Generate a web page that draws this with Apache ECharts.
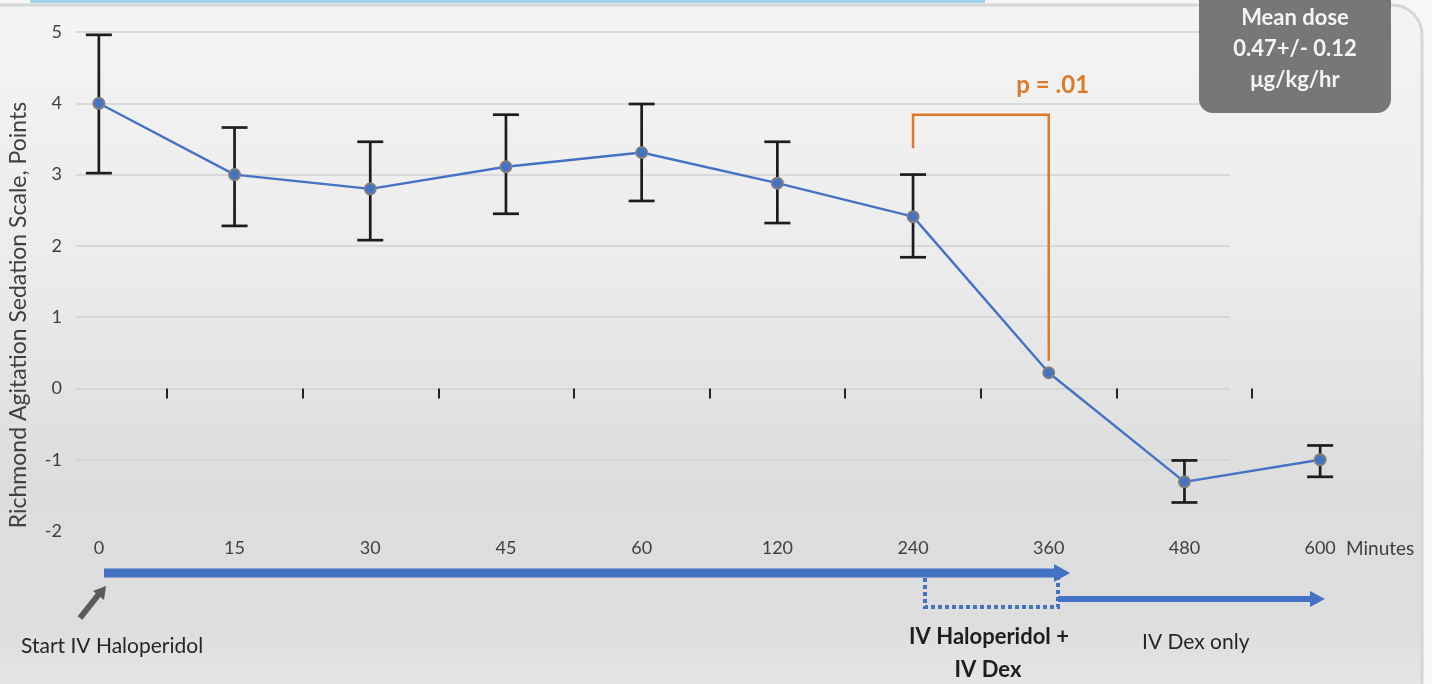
<!DOCTYPE html>
<html><head><meta charset="utf-8">
<script src="https://cdn.jsdelivr.net/npm/echarts@6/dist/echarts.min.js"></script>
<style>html,body{margin:0;padding:0;background:#f7f7f7;}#c{width:1432px;height:684px;}</style>
</head><body><div id="c"></div>
<script>
// ---- data ----
const categories = ['0', '15', '30', '45', '60', '120', '240', '360', '480', '600'];
const rasMean = [4.0, 3.0, 2.8, 3.11, 3.31, 2.88, 2.41, 0.22, -1.31, -1.0];
const errLow  = [3.02, 2.28, 2.08, 2.45, 2.63, 2.32, 1.84, null, -1.60, -1.24];
const errHigh = [4.96, 3.66, 3.46, 3.84, 3.99, 3.46, 3.00, null, -1.01, -0.80];
const yMin = -2, yMax = 5, yStep = 1;
const pBracket = { fromCat: '240', toCat: '360', top: 3.84, leftFoot: 3.37, rightFoot: 0.39, label: 'p = .01' };
const doseLines = ['Mean dose', '0.47+/- 0.12', 'μg/kg/hr'];
const yTitle = 'Richmond Agitation Sedation Scale, Points';
const xUnit = 'Minutes';

const FONT = 'Lato, "Open Sans", sans-serif';
const BLUE = '#4472C4';
const ORANGE = '#DD7A27';

const chart = echarts.init(document.getElementById('c'), null, { renderer: 'canvas' });

const errData = errLow.map((lo, i) => lo == null ? null : [i, lo, errHigh[i]]).filter(Boolean);

const option = {
  backgroundColor: '#f7f7f7',
  animation: false,
  grid: [
    { left: 76, right: 202, top: 32, bottom: 153 },   // gridlines + y labels
    { left: 31, right: 44, top: 32, bottom: 153 },    // data
    { left: 167, right: 180, top: 32, bottom: 153 }   // tick marks on y = 0
  ],
  xAxis: [
    { gridIndex: 0, type: 'value', min: 0, max: 1, show: false },
    { gridIndex: 1, type: 'category', data: categories, boundaryGap: true,
      axisLine: { show: false, onZero: false }, axisTick: { show: false },
      axisLabel: { fontFamily: FONT, fontSize: 18, color: '#404040', margin: 8 } },
    { gridIndex: 2, type: 'value', min: 1, max: 9, interval: 1,
      axisLine: { show: false, onZero: true },
      axisTick: { show: true, length: 10, lineStyle: { color: '#222', width: 2 } },
      axisLabel: { show: false }, splitLine: { show: false } }
  ],
  yAxis: [
    { gridIndex: 0, type: 'value', min: yMin, max: yMax, interval: yStep,
      axisLine: { show: false }, axisTick: { show: false },
      axisLabel: { fontFamily: FONT, fontSize: 18, color: '#404040', margin: 14 },
      splitLine: { show: true, showMinLine: false, lineStyle: { color: '#d2d2d2', width: 1.6 } } },
    { gridIndex: 1, type: 'value', min: yMin, max: yMax, interval: yStep, show: false, splitLine: { show: false } },
    { gridIndex: 2, type: 'value', min: yMin, max: yMax, interval: yStep, show: false, splitLine: { show: false } }
  ],
  series: [
    {
      type: 'custom', xAxisIndex: 1, yAxisIndex: 1, z: 3, clip: false,
      data: errData, encode: { x: 0, y: [1, 2] },
      renderItem: function (params, api) {
        const x = api.value(0);
        const pLo = api.coord([x, api.value(1)]);
        const pHi = api.coord([x, api.value(2)]);
        const hw = 13;
        const st = { stroke: '#1c1c1c', lineWidth: 2.7 };
        return { type: 'group', children: [
          { type: 'line', shape: { x1: pLo[0], y1: pLo[1], x2: pHi[0], y2: pHi[1] }, style: st },
          { type: 'line', shape: { x1: pLo[0] - hw, y1: pLo[1], x2: pLo[0] + hw, y2: pLo[1] }, style: st },
          { type: 'line', shape: { x1: pHi[0] - hw, y1: pHi[1], x2: pHi[0] + hw, y2: pHi[1] }, style: st }
        ]};
      }
    },
    {
      type: 'line', xAxisIndex: 1, yAxisIndex: 1, z: 5,
      data: rasMean, symbol: 'circle', symbolSize: 11,
      lineStyle: { color: BLUE, width: 2.4 },
      itemStyle: { color: BLUE, borderColor: '#7f7f7f', borderWidth: 2 }
    },
    {
      type: 'custom', xAxisIndex: 1, yAxisIndex: 1, z: 4, clip: false,
      data: [[0]],
      renderItem: function (params, api) {
        const i0 = categories.indexOf(pBracket.fromCat);
        const i1 = categories.indexOf(pBracket.toCat);
        const a = api.coord([i0, pBracket.leftFoot]);
        const b = api.coord([i0, pBracket.top]);
        const c = api.coord([i1, pBracket.top]);
        const d = api.coord([i1, pBracket.rightFoot]);
        return { type: 'group', children: [
          { type: 'polyline', shape: { points: [a, b, c, d] }, style: { stroke: ORANGE, lineWidth: 2.5, fill: null } },
          { type: 'text', x: c[0] + 4, y: c[1] - 29, style: { text: pBracket.label, fill: ORANGE, font: 'bold 24px ' + FONT, textAlign: 'center', textVerticalAlign: 'middle' } }
        ]};
      }
    }
  ],
  graphic: [
    // panel background
    { type: 'rect', z: -10, silent: true, shape: { x: -40, y: 5, width: 1462, height: 730, r: 30 },
      style: { fill: { type: 'linear', x: 0, y: 0, x2: 0, y2: 1, colorStops: [
        { offset: 0, color: '#f4f4f4' }, { offset: 0.35, color: '#ececec' }, { offset: 0.65, color: '#dddddd' },
        { offset: 0.85, color: '#dedede' }, { offset: 1, color: '#ebebeb' } ] }, stroke: '#d6d6d6', lineWidth: 3 } },
    { type: 'rect', z: -9, silent: true, shape: { x: 30, y: 0, width: 955, height: 3 }, style: { fill: '#9fd3ec' } },
    // mean dose box
    { type: 'rect', z: 100, shape: { x: 1199, y: -20, width: 192, height: 133, r: 14 }, style: { fill: '#777777' } },
    { type: 'text', z: 101, x: 1295, y: 18, style: { text: doseLines[0], fill: '#f4f4f4', font: 'bold 22px ' + FONT, textAlign: 'center', textVerticalAlign: 'middle' } },
    { type: 'text', z: 101, x: 1295, y: 49, style: { text: doseLines[1], fill: '#f4f4f4', font: 'bold 22px ' + FONT, textAlign: 'center', textVerticalAlign: 'middle' } },
    { type: 'text', z: 101, x: 1295, y: 80, style: { text: doseLines[2], fill: '#f4f4f4', font: 'bold 22px ' + FONT, textAlign: 'center', textVerticalAlign: 'middle' } },
    // y axis title
    { type: 'text', z: 10, x: 19, y: 315, rotation: Math.PI / 2,
      style: { text: yTitle, fill: '#404040', font: '23px ' + FONT, textAlign: 'center', textVerticalAlign: 'middle' } },
    // x unit
    { type: 'text', z: 10, x: 1346, y: 549, style: { text: xUnit, fill: '#404040', font: '19px ' + FONT, textAlign: 'left', textVerticalAlign: 'middle' } },
    // timeline arrows
    { type: 'line', z: 10, shape: { x1: 104, y1: 573, x2: 1056, y2: 573 }, style: { stroke: BLUE, lineWidth: 9 } },
    { type: 'polygon', z: 10, shape: { points: [[1054, 564], [1070, 573], [1054, 582]] }, style: { fill: BLUE } },
    { type: 'polyline', z: 10, shape: { points: [[925, 578], [925, 607], [1058, 607], [1058, 578]] },
      style: { stroke: BLUE, lineWidth: 4, lineDash: [4, 3], fill: null } },
    { type: 'line', z: 10, shape: { x1: 1058, y1: 599, x2: 1312, y2: 599 }, style: { stroke: BLUE, lineWidth: 6 } },
    { type: 'polygon', z: 10, shape: { points: [[1310, 591], [1325, 599], [1310, 607]] }, style: { fill: BLUE } },
    { type: 'line', z: 10, shape: { x1: 80, y1: 618, x2: 99, y2: 594 }, style: { stroke: '#5a5a5a', lineWidth: 6 } },
    { type: 'polygon', z: 10, shape: { points: [[106, 586], [104, 600], [93, 591]] }, style: { fill: '#5a5a5a' } },
    // timeline texts
    { type: 'text', z: 10, x: 21, y: 646, style: { text: 'Start IV Haloperidol', fill: '#262626', font: '21px ' + FONT, textAlign: 'left', textVerticalAlign: 'middle' } },
    { type: 'text', z: 10, x: 989, y: 637, style: { text: 'IV Haloperidol +', fill: '#1e1e1e', font: 'bold 22px ' + FONT, textAlign: 'center', textVerticalAlign: 'middle' } },
    { type: 'text', z: 10, x: 988, y: 670, style: { text: 'IV Dex', fill: '#1e1e1e', font: 'bold 22px ' + FONT, textAlign: 'center', textVerticalAlign: 'middle' } },
    { type: 'text', z: 10, x: 1142, y: 642, style: { text: 'IV Dex only', fill: '#262626', font: '21px ' + FONT, textAlign: 'left', textVerticalAlign: 'middle' } }
  ]
};
chart.setOption(option);
</script></body></html>
